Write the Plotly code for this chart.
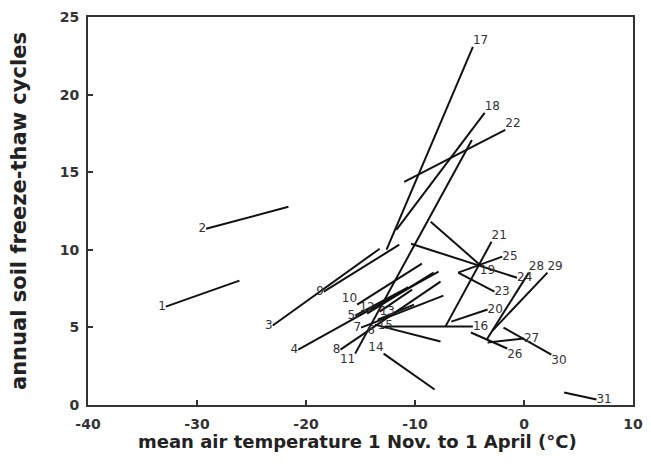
import plotly.graph_objects as go

# site labels
labels = [str(i) for i in range(1, 32)]

# labelled end (x1, y1) and other end (x2, y2) of each site's segment
x1 = [-32.86, -29.17, -23.05, -20.71, -15.49, -13.69, -14.95, -16.84, -18.37, -15.31,
      -15.49, -14.40, -13.24, -12.88, -13.42, -4.69, -4.69, -3.61, -4.06, -3.34,
      -2.98, -1.72, -2.71, -0.64, -1.99, -1.54, -0.01, 0.44, 2.15, 2.51, 6.65]
y1 = [6.34, 11.36, 5.12, 3.57, 5.76, 5.18, 4.99, 3.57, 7.30, 6.47,
      3.31, 5.89, 6.02, 3.31, 5.50, 5.05, 23.07, 18.82, 9.04, 6.15,
      10.52, 17.73, 7.30, 8.20, 9.56, 3.64, 4.28, 8.53, 8.53, 3.25, 0.35]
x2 = [-26.11, -21.61, -13.24, -7.84, -10.60, -7.66, -7.39, -7.66, -11.44, -9.37,
      -4.78, -8.29, -10.27, -8.20, -10.09, -12.79, -12.61, -11.71, -8.56, -6.67,
      -7.21, -10.99, -6.04, -10.36, -6.04, -4.87, -3.34, -3.43, -2.89, -1.88, 3.68]
y2 = [8.01, 12.77, 10.07, 8.59, 7.60, 4.09, 7.05, 7.95, 10.33, 9.11,
      17.08, 8.53, 7.43, 1.00, 6.47, 5.05, 10.01, 11.29, 11.81, 5.37,
      5.05, 14.38, 8.53, 10.39, 8.53, 4.67, 4.02, 4.21, 4.79, 4.99, 0.80]

# where each label sits relative to its labelled end
label_pos = ["middle left", "middle left", "middle left", "middle left", "middle left",
             "bottom left", "middle left", "middle left", "middle left", "top left",
             "bottom left", "top center", "middle right", "top left", "bottom right",
             "middle right", "top right", "top right", "bottom right", "middle right",
             "top right", "top right", "middle right", "middle right", "middle right",
             "bottom right", "middle right", "top right", "top right", "bottom right",
             "middle right"]

x_ticks = [-40, -30, -20, -10, 0, 10]
x_tick_text = ["-40", "-30", "-20", "-10", "0", "10"]
y_ticks = [0, 5, 10, 15, 20, 25]

fig = go.Figure()
for i in range(len(labels)):
    fig.add_trace(go.Scatter(
        x=[x1[i], x2[i]], y=[y1[i], y2[i]], mode="lines",
        line=dict(color="#111111", width=2), hoverinfo="skip", showlegend=False))

fig.add_trace(go.Scatter(
    x=x1, y=y1, mode="text", text=labels, textposition=label_pos,
    textfont=dict(family="DejaVu Sans", size=12, color="#333333"),
    hoverinfo="skip", showlegend=False))

axis_common = dict(showline=True, mirror=True, linecolor="#333333", linewidth=2,
                   ticks="inside", ticklen=5, tickwidth=2, tickcolor="#333333",
                   showgrid=False, zeroline=False,
                   tickfont=dict(family="DejaVu Sans", size=14, color="#333333",
                                 weight="bold"))

fig.update_xaxes(range=[-40, 10], tickvals=x_ticks, ticktext=x_tick_text,
                 ticklabelstandoff=5, **axis_common)
fig.update_yaxes(range=[0, 25], tickvals=y_ticks, ticklabelstandoff=4, **axis_common)

fig.update_layout(
    width=651, height=470,
    margin=dict(l=88, r=8, t=17, b=65),
    paper_bgcolor="white", plot_bgcolor="white",
    annotations=[
        dict(text="mean air temperature 1 Nov. to 1 April (°C)", xref="paper", yref="paper",
             x=0.495, y=0, yshift=-36, xanchor="center", yanchor="middle", showarrow=False,
             font=dict(family="DejaVu Sans", size=18, color="#222222", weight="bold")),
        dict(text="annual soil freeze-thaw cycles", xref="paper", yref="paper",
             x=0, y=0.5, xshift=-69, xanchor="center", yanchor="middle", textangle=-90,
             showarrow=False,
             font=dict(family="DejaVu Sans", size=21, color="#222222", weight="bold")),
    ],
)

fig.write_html("out.html")
